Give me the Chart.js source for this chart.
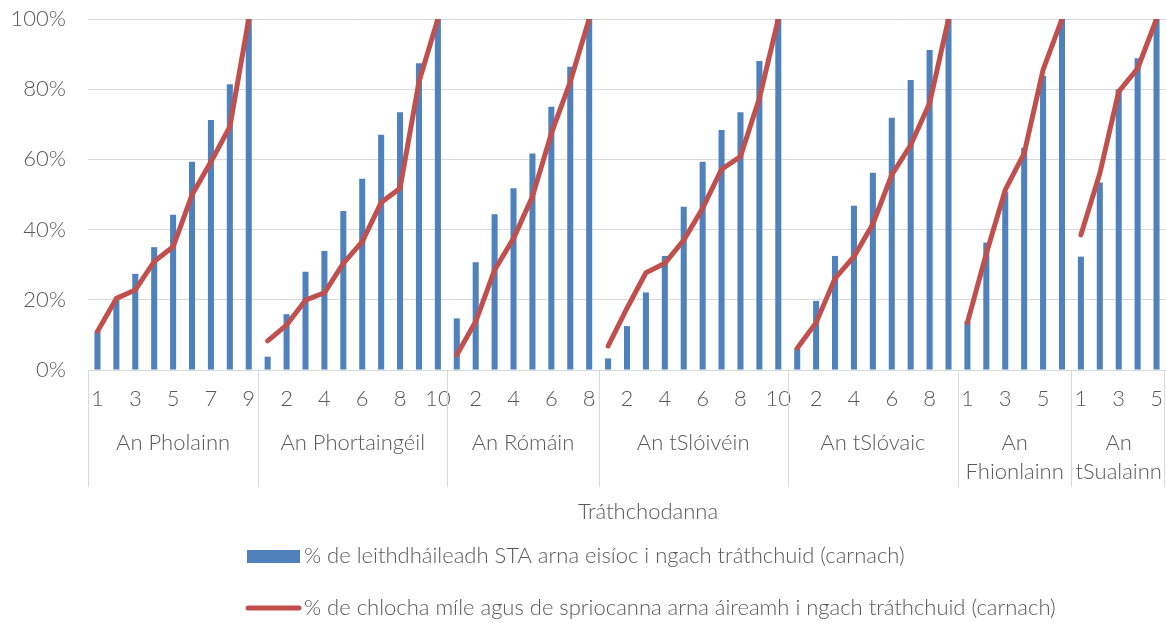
<!DOCTYPE html>
<html>
<head>
<meta charset="utf-8">
<script src="https://cdn.jsdelivr.net/npm/chart.js@4.4.0/dist/chart.umd.min.js"></script>
<style>
  html, body { margin: 0; padding: 0; background: #fff; }
  #wrap { width: 1166px; height: 623px; }
</style>
</head>
<body>
<div id="wrap"><canvas id="myChart"></canvas></div>
<script>
// tíortha agus líon na dtráthchodanna
const tiortha = ['An Pholainn', 'An Phortaingéil', 'An Rómáin', 'An tSlóivéin', 'An tSlóvaic', 'An Fhionlainn', 'An tSualainn'];

const trathchodanna = [
    '1', '2', '3', '4', '5', '6', '7', '8', '9',
    '1', '2', '3', '4', '5', '6', '7', '8', '9', '10',
    '1', '2', '3', '4', '5', '6', '7', '8',
    '1', '2', '3', '4', '5', '6', '7', '8', '9', '10',
    '1', '2', '3', '4', '5', '6', '7', '8', '9',
    '1', '2', '3', '4', '5', '6',
    '1', '2', '3', '4', '5'
];

// % de leithdháileadh STA arna eisíoc (carnach)
const eisioc = [
    11.0, 20.0, 27.4, 35.0, 44.2, 59.3, 71.2, 81.4, 100,
    3.8, 15.9, 28.0, 33.9, 45.3, 54.5, 67.0, 73.4, 87.4, 100,
    14.7, 30.7, 44.4, 51.8, 61.7, 75.0, 86.4, 100,
    3.3, 12.5, 22.1, 32.5, 46.5, 59.3, 68.4, 73.4, 88.0, 100,
    6.2, 19.7, 32.5, 46.8, 56.2, 71.9, 82.6, 91.2, 100,
    13.8, 36.3, 50.8, 63.3, 83.8, 100,
    32.3, 53.4, 80.0, 88.8, 100
];

// % de chlocha míle agus de spriocanna arna áireamh (carnach)
const clochaMile = [
    11.0, 20.4, 22.8, 30.9, 35.1, 49.9, 59.3, 69.3, 100,
    8.3, 12.8, 19.9, 22.0, 30.4, 36.6, 47.7, 51.8, 82.1, 100,
    4.3, 13.8, 28.5, 37.5, 49.4, 67.4, 82.1, 100,
    6.8, 17.6, 27.7, 30.4, 37.0, 46.1, 57.2, 60.8, 77.4, 100,
    6.2, 13.5, 26.1, 32.3, 41.6, 55.6, 64.1, 76.0, 100,
    13.5, 33.2, 51.3, 61.7, 85.5, 100,
    38.5, 56.0, 79.3, 85.9, 100
];

const lionPerTir = [9, 10, 8, 10, 9, 6, 5];

const gorm = '#4F81BD';
const dearg = '#C0504D';
const liath = '#595959';
const cloFont = 'Lato, "Open Sans", sans-serif';
const cloMeid = 22;

// tosach gach grúpa
const tosaigh = [];
let n = 0;
lionPerTir.forEach(l => { tosaigh.push(n); n += l; });
const deireadh = new Set(tosaigh.slice(1).map(t => t - 1));

const grupaPlugin = {
    id: 'grupai',
    afterDraw(chart) {
        const ctx = chart.ctx;
        const x = chart.scales.x;
        const bun = chart.chartArea.bottom;
        const leath = (x.getPixelForValue(1) - x.getPixelForValue(0)) / 2;

        ctx.save();
        ctx.strokeStyle = '#d9d9d9';
        ctx.lineWidth = 1;
        ctx.fillStyle = liath;
        ctx.font = '300 ' + cloMeid + 'px ' + cloFont;
        ctx.textAlign = 'center';
        ctx.textBaseline = 'middle';

        tosaigh.forEach((t, i) => {
            const clé = x.getPixelForValue(t) - leath;
            const deis = x.getPixelForValue(t + lionPerTir[i] - 1) + leath;
            ctx.beginPath();
            ctx.moveTo(Math.round(clé) + 0.5, bun);
            ctx.lineTo(Math.round(clé) + 0.5, bun + 117);
            ctx.stroke();
            if (i === tosaigh.length - 1) {
                ctx.beginPath();
                ctx.moveTo(Math.round(deis) - 1.5, bun);
                ctx.lineTo(Math.round(deis) - 1.5, bun + 117);
                ctx.stroke();
            }
            // ainm na tíre, fillte más gá
            const lar = (clé + deis) / 2;
            const ainm = tiortha[i];
            let linte = [ainm];
            if (ctx.measureText(ainm).width > deis - clé - 6) {
                const sp = ainm.indexOf(' ');
                linte = [ainm.slice(0, sp), ainm.slice(sp + 1)];
            }
            linte.forEach((l, j) => ctx.fillText(l, lar, bun + 73 + j * 29));
        });

        // teideal na hais
        ctx.fillText('Tráthchodanna', 648, 512);

        // finscéal
        const ds = chart.data.datasets;
        ctx.textAlign = 'left';
        const tx = 304;
        ctx.fillStyle = ds[0].backgroundColor;
        ctx.fillRect(247, 550, 53, 13);
        ctx.fillStyle = liath;
        ctx.fillText(ds[0].label, tx, 556);

        ctx.strokeStyle = ds[1].borderColor;
        ctx.lineWidth = 5;
        ctx.lineCap = 'round';
        ctx.beginPath();
        ctx.moveTo(248, 608);
        ctx.lineTo(299, 608);
        ctx.stroke();
        ctx.fillText(ds[1].label, tx, 608);
        ctx.restore();
    }
};

const ctx = document.getElementById('myChart').getContext('2d');
new Chart(ctx, {
    type: 'bar',
    data: {
        labels: trathchodanna,
        datasets: [{
            type: 'bar',
            label: '% de leithdháileadh STA arna eisíoc i ngach tráthchuid (carnach)',
            data: eisioc,
            backgroundColor: gorm,
            barPercentage: 0.32,
            categoryPercentage: 1,
            order: 1
        }, {
            type: 'line',
            label: '% de chlocha míle agus de spriocanna arna áireamh i ngach tráthchuid (carnach)',
            data: clochaMile,
            borderColor: dearg,
            backgroundColor: dearg,
            borderWidth: 5,
            borderCapStyle: 'round',
            borderJoinStyle: 'round',
            pointRadius: 0,
            tension: 0,
            clip: 0,
            order: 0,
            segment: {
                borderColor: c => deireadh.has(c.p0DataIndex) ? 'rgba(0,0,0,0)' : dearg
            }
        }]
    },
    options: {
        responsive: true,
        maintainAspectRatio: false,
        animation: false,
        layout: { padding: { top: 19, right: 0, left: 0, bottom: 0 } },
        plugins: {
            legend: { display: false },
            tooltip: { enabled: false }
        },
        scales: {
            x: {
                grid: { display: false, drawTicks: false },
                border: { display: true, color: '#d9d9d9' },
                ticks: {
                    autoSkip: false,
                    maxRotation: 0,
                    padding: 16,
                    color: liath,
                    font: { family: cloFont, size: cloMeid, weight: 300 },
                    callback: (v, i) => i % 2 === 0 ? trathchodanna[i] : ''
                },
                afterFit: s => {
                    s.height = 253;
                    s.paddingLeft = 0;
                    s.paddingRight = 0;
                }
            },
            y: {
                min: 0,
                max: 100,
                ticks: {
                    stepSize: 20,
                    padding: 22,
                    color: liath,
                    font: { family: cloFont, size: cloMeid, weight: 300 },
                    callback: v => v + '%'
                },
                grid: { color: '#d9d9d9', drawTicks: false },
                border: { display: false },
                afterFit: s => {
                    s.width = 88;
                    s.paddingTop = 0;
                    s.paddingBottom = 0;
                }
            }
        }
    },
    plugins: [grupaPlugin]
});
</script>
</body>
</html>
